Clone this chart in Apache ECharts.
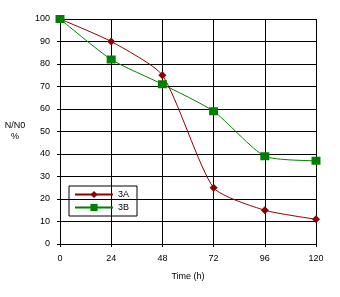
<!DOCTYPE html>
<html><head><meta charset="utf-8">
<script src="https://cdn.jsdelivr.net/npm/echarts@6/dist/echarts.min.js"></script>
<style>html,body{margin:0;padding:0;background:#fff}#c{width:340px;height:297px}</style>
</head><body><div id="c"></div>
<script>
const categories = [0, 24, 48, 72, 96, 120];
const series3A = [100, 90, 75, 25, 15, 11];
const series3B = [100, 82, 71, 59, 39, 37];
const xTicks = [0, 24, 48, 72, 96, 120];
const yTicks = [0, 10, 20, 30, 40, 50, 60, 70, 80, 90, 100];

const chart = echarts.init(document.getElementById('c'), null, {renderer: 'canvas'});
const font = 'Liberation Sans, Arial, sans-serif';
chart.setOption({
  animation: false,
  backgroundColor: '#fff',
  grid: {left: 60, top: 19, width: 256, height: 225},
  xAxis: {
    type: 'value', min: 0, max: 120, interval: 24,
    name: 'Time (h)', nameLocation: 'middle', nameGap: 28,
    nameTextStyle: {fontFamily: font, fontSize: 9, color: '#000'},
    axisLine: {lineStyle: {color: '#000', width: 1}},
    axisTick: {show: true, length: 3, lineStyle: {color: '#000'}},
    axisLabel: {fontFamily: font, fontSize: 9, color: '#000', margin: 10},
    splitLine: {show: true, lineStyle: {color: '#000', width: 1}}
  },
  yAxis: {
    type: 'value', min: 0, max: 100, interval: 10,
    name: 'N/N0\n%', nameLocation: 'middle', nameGap: 45, nameRotate: 0,
    nameTextStyle: {fontFamily: font, fontSize: 9, color: '#000', lineHeight: 11, align: 'center'},
    axisLine: {lineStyle: {color: '#000', width: 1}},
    axisTick: {show: true, length: 3, lineStyle: {color: '#000'}},
    axisLabel: {fontFamily: font, fontSize: 9, color: '#000', margin: 10},
    splitLine: {show: true, lineStyle: {color: '#000', width: 1}}
  },
  legend: {
    orient: 'vertical', left: 69, top: 186,
    padding: [4, 8, 4, 5], itemGap: 4,
    itemWidth: 38, itemHeight: 9,
    borderColor: '#000', borderWidth: 1,
    textStyle: {fontFamily: font, fontSize: 9, color: '#000'},
    data: ['3A', '3B']
  },
  series: [
    {
      name: '3A', type: 'line', smooth: 0.2,
      data: categories.map((x, i) => [x, series3A[i]]),
      symbol: 'diamond', symbolSize: 8,
      itemStyle: {color: '#8B0000'},
      lineStyle: {color: '#8B0000', width: 1}
    },
    {
      name: '3B', type: 'line', smooth: 0.2,
      data: categories.map((x, i) => [x, series3B[i]]),
      symbol: 'rect', symbolSize: [9, 8],
      itemStyle: {color: '#008000'},
      lineStyle: {color: '#008000', width: 1}
    }
  ]
});
</script></body></html>
